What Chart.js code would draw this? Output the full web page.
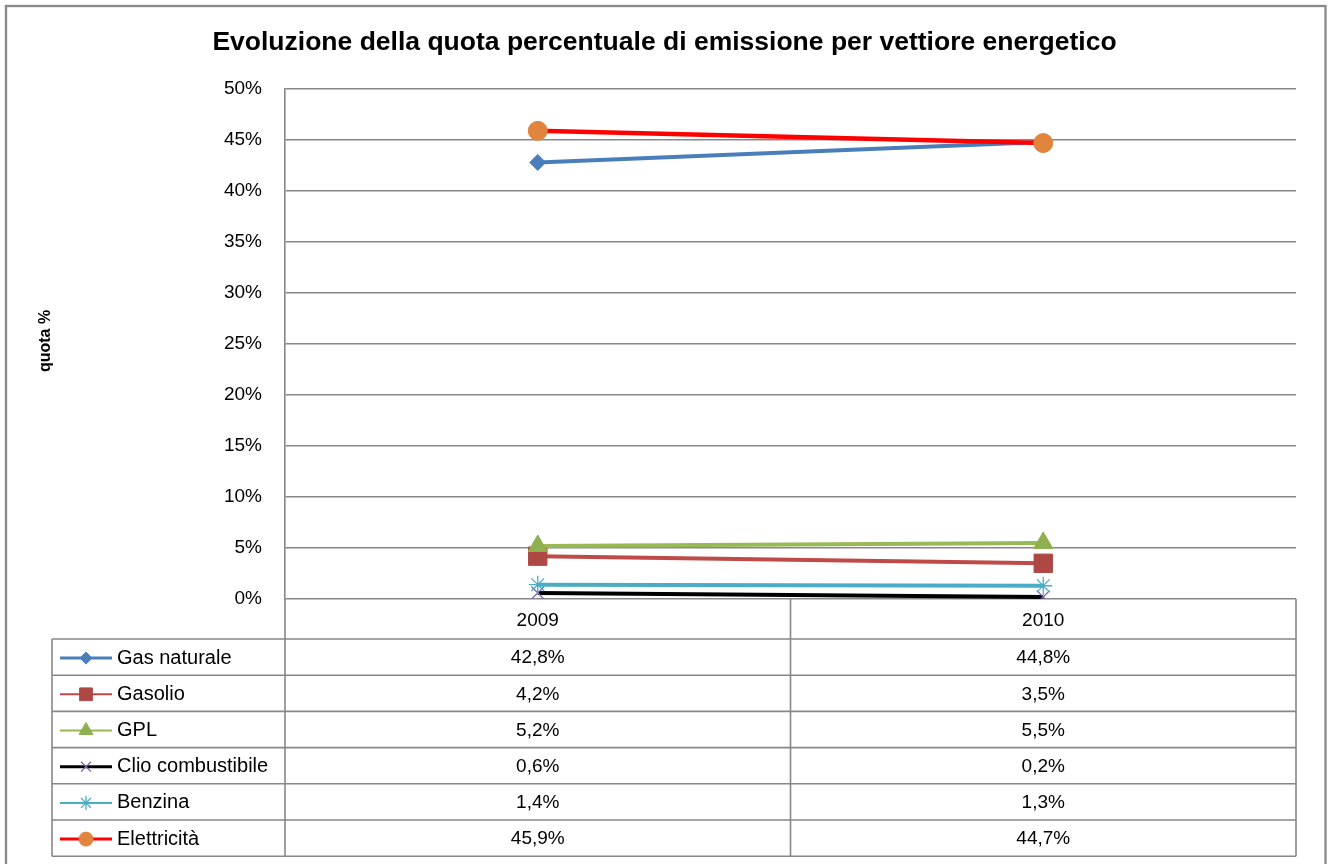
<!DOCTYPE html>
<html><head><meta charset="utf-8">
<script src="https://cdn.jsdelivr.net/npm/chart.js@4"></script>
<style>html,body{margin:0;padding:0;background:#fff}#wrap{width:1329px;height:864px;position:relative}</style>
</head><body><div id="wrap"><canvas id="c" width="1329" height="864"></canvas></div>
<script>
// ---- data ----
const years = ['2009', '2010'];
const seriesNames = ['Gas naturale', 'Gasolio', 'GPL', 'Clio combustibile', 'Benzina', 'Elettricità'];
const gasNaturale = [42.8, 44.8];
const gasolio = [4.2, 3.5];
const gpl = [5.2, 5.5];
const clioCombustibile = [0.6, 0.2];
const benzina = [1.4, 1.3];
const elettricita = [45.9, 44.7];
const yMin = 0, yMax = 50, yStep = 5;
const chartTitle = 'Evoluzione della quota percentuale di emissione per vettiore energetico';
const yTitle = 'quota %';

// ---- styles ----
const FONT = '"Liberation Sans", Arial, sans-serif';
const GRID = '#878787';
const styles = [
  {line: '#4A7EBB', fill: '#4A7EBB', stroke: '#4A7EBB', ps: 'rectRot', r: 8, lw: 4, legLw: 3, legR: 6, pbw: 1},
  {line: '#BE4B48', fill: '#AD4845', stroke: '#AD4845', ps: 'rect', r: 13, lw: 4, legLw: 2, legR: 9, pbw: 1},
  {line: '#98B954', fill: '#8FB050', stroke: '#8FB050', ps: 'triangle', r: 11, lw: 4, legLw: 2, legR: 8, pbw: 1},
  {line: '#000000', fill: '#7F65A5', stroke: '#7F65A5', ps: 'crossRot', r: 9, lw: 4, legLw: 3, legR: 7, pbw: 1.3},
  {line: '#4BACC6', fill: '#4BACC6', stroke: '#4BACC6', ps: 'star', r: 9, lw: 4, legLw: 2, legR: 7, pbw: 1.3},
  {line: '#FF0000', fill: '#E0843E', stroke: '#E0843E', ps: 'circle', r: 9.5, lw: 4.5, legLw: 3, legR: 7, pbw: 1}
];
const values = [gasNaturale, gasolio, gpl, clioCombustibile, benzina, elettricita];

const datasets = values.map((v, i) => ({
  label: seriesNames[i],
  data: v,
  borderColor: styles[i].line,
  backgroundColor: styles[i].fill,
  borderWidth: styles[i].lw,
  pointStyle: styles[i].ps,
  pointRadius: styles[i].r,
  pointHoverRadius: styles[i].r,
  pointBackgroundColor: styles[i].fill,
  pointBorderColor: styles[i].stroke,
  pointBorderWidth: styles[i].pbw,
  tension: 0,
  fill: false,
  order: values.length - i
}));

function fmt(v) { return v.toFixed(1).replace('.', ',') + '%'; }

const framePlugin = {
  id: 'frame',
  beforeDraw(chart) {
    const ctx = chart.ctx;
    ctx.save();
    ctx.fillStyle = '#fff';
    ctx.fillRect(0, 0, chart.width, chart.height);
    ctx.strokeStyle = '#898989';
    ctx.lineWidth = 2.3;
    ctx.strokeRect(6, 6, 1319.5, 900);
    // title
    ctx.fillStyle = '#000';
    ctx.font = 'bold 26.5px ' + FONT;
    ctx.textAlign = 'center';
    ctx.textBaseline = 'middle';
    ctx.fillText(chartTitle, 664.5, 43);
    // y title
    ctx.translate(46, 341);
    ctx.rotate(-Math.PI / 2);
    ctx.font = 'bold 16px ' + FONT;
    ctx.fillText(yTitle, 0, 0);
    ctx.restore();
  }
};

const tablePlugin = {
  id: 'dataTable',
  afterDraw(chart) {
    const ctx = chart.ctx;
    const ca = chart.chartArea;
    const xs = chart.scales.x;
    const colLeft = 52;
    const c0 = ca.left, c2 = ca.right;
    const c1 = (xs.getPixelForValue(0) + xs.getPixelForValue(1)) / 2;
    const headTop = ca.bottom;
    const rowTop = 639;
    const rowH = 36.2;
    const n = seriesNames.length;
    const bottom = rowTop + rowH * n;
    ctx.save();
    ctx.strokeStyle = GRID;
    ctx.lineWidth = 1.6;
    ctx.beginPath();
    [c0, c1, c2].forEach(x => { ctx.moveTo(x, headTop); ctx.lineTo(x, bottom); });
    ctx.moveTo(colLeft, rowTop); ctx.lineTo(colLeft, bottom);
    for (let r = 0; r <= n; r++) {
      const y = rowTop + rowH * r;
      ctx.moveTo(colLeft, y); ctx.lineTo(c2, y);
    }
    ctx.stroke();

    ctx.textBaseline = 'middle';
    for (let r = 0; r < n; r++) {
      const yc = rowTop + rowH * r + rowH / 2 + 1;
      const st = styles[r];
      // legend line
      ctx.strokeStyle = st.line;
      ctx.lineWidth = st.legLw;
      ctx.beginPath();
      ctx.moveTo(60, yc); ctx.lineTo(112, yc);
      ctx.stroke();
      ctx.fillStyle = st.fill;
      ctx.strokeStyle = st.stroke;
      ctx.lineWidth = st.pbw;
      if (Chart.helpers && Chart.helpers.drawPoint) {
        Chart.helpers.drawPoint(ctx, {pointStyle: st.ps, radius: st.legR, rotation: 0, borderWidth: st.pbw}, 86, yc);
      }
      ctx.fillStyle = '#000';
      ctx.textAlign = 'left';
      ctx.font = '20px ' + FONT;
      ctx.fillText(seriesNames[r], 117, yc);
      ctx.textAlign = 'center';
      ctx.font = '19px ' + FONT;
      values[r].forEach((v, j) => {
        ctx.fillText(fmt(v), xs.getPixelForValue(j), yc);
      });
    }
    ctx.restore();
  }
};

new Chart(document.getElementById('c'), {
  type: 'line',
  data: { labels: years, datasets },
  options: {
    responsive: false,
    animation: false,
    devicePixelRatio: 1,
    layout: { padding: { left: 0, top: 89, right: 33, bottom: 0 } },
    plugins: { legend: { display: false }, tooltip: { enabled: false }, title: { display: false } },
    scales: {
      x: {
        offset: true,
        grid: { display: false, drawTicks: false },
        border: { display: false },
        ticks: { color: '#000', font: { family: FONT, size: 19 }, padding: 10, maxRotation: 0 },
        afterFit(s) { s.height = 265; }
      },
      y: {
        min: yMin, max: yMax,
        grid: { color: GRID, lineWidth: 1.5, drawTicks: false },
        border: { display: true, color: GRID, width: 1.6 },
        ticks: { stepSize: yStep, color: '#000', font: { family: FONT, size: 19 }, padding: 23,
          callback: v => v + '%' },
        afterFit(s) { s.width = 285; }
      }
    }
  },
  plugins: [framePlugin, tablePlugin]
});
</script>
</body></html>
